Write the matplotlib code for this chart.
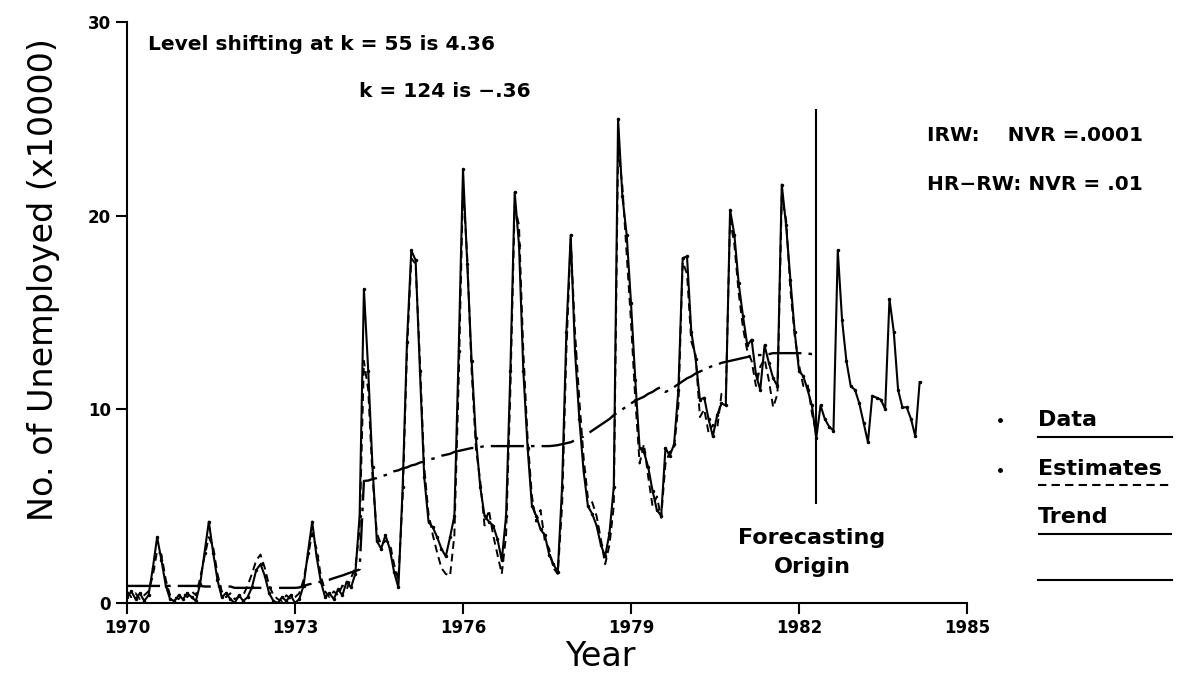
import numpy as np
import matplotlib.pyplot as plt

# ---------------------------------------------------------
# Unemployment series (x10000), 13 samples per year from 1970
# ---------------------------------------------------------
data = [
    0.3, 0.6, 0.2, 0.5, 0.1, 0.4, 1.8, 3.4, 2.2, 0.9, 0.2, 0.1, 0.4,
    0.2, 0.5, 0.3, 0.1, 1.0, 2.6, 4.2, 2.6, 1.2, 0.3, 0.5, 0.2, 0.0,
    0.4, 0.1, 0.3, 0.8, 1.7, 2.0, 1.4, 0.5, 0.1, 0.0, 0.3, 0.1, 0.4,
    0.0, 0.2, 0.9, 2.6, 4.2, 2.4, 1.1, 0.3, 0.5, 0.2, 0.7, 0.4, 1.1,
    0.8, 1.5, 4.5, 16.2, 12.0, 7.0, 3.2, 2.8, 3.5, 2.8, 1.6, 0.8, 6.0,
    13.5, 18.2, 17.7, 12.0, 6.5, 4.2, 3.9, 3.4, 2.8, 2.4, 3.4, 4.5, 13.0,
    22.4, 17.5, 12.5, 8.5, 6.0, 4.5, 4.2, 4.0, 3.3, 2.2, 4.5, 12.0, 21.2,
    18.5, 12.0, 8.0, 5.0, 4.5, 3.8, 3.5, 2.5, 2.0, 1.6, 6.0, 14.0, 19.0,
    13.0, 9.5, 6.8, 5.0, 4.6, 4.0, 3.0, 2.4, 3.6, 6.0, 25.0, 21.0, 19.0,
    15.5, 11.5, 8.0, 7.8, 7.0, 5.8, 4.8, 4.5, 8.0, 7.6, 8.2, 11.0, 17.8,
    17.9, 14.0, 12.6, 10.5, 10.6, 9.5, 8.6, 9.7, 10.3, 10.2, 20.3, 19.0, 16.5,
    14.8, 13.3, 13.6, 11.8, 11.0, 13.3, 12.4, 11.6, 11.2, 21.6, 19.5, 16.7, 14.0,
    12.0, 11.7, 11.0, 10.2, 8.5, 10.2, 9.5, 9.1, 8.9, 18.2, 14.6, 12.5, 11.2,
    11.0, 10.3, 9.3, 8.3, 10.7, 10.6, 10.5, 10.0, 15.7, 14.0, 11.0, 10.1, 10.1,
    9.5, 8.6, 11.4,
]

# model estimates up to the forecasting origin
estimates = [
    0.6, 0.3, 0.5, 0.2, 0.4, 0.6, 1.4, 2.7, 2.5, 1.2, 0.4, 0.3, 0.2,
    0.5, 0.3, 0.6, 0.4, 1.3, 2.4, 3.4, 2.9, 1.5, 0.6, 0.3, 0.5, 0.2,
    0.3, 0.4, 0.9, 1.5, 2.2, 2.5, 1.8, 0.9, 0.4, 0.2, 0.1, 0.4, 0.2,
    0.3, 0.5, 1.2, 2.4, 3.6, 2.8, 1.4, 0.6, 0.3, 0.6, 0.4, 0.9, 0.7,
    1.3, 1.8, 3.8, 12.5, 11.0, 6.5, 3.6, 3.0, 3.2, 3.1, 2.0, 1.2, 5.5,
    13.0, 17.8, 17.5, 12.5, 7.0, 4.6, 3.5, 2.6, 1.8, 1.5, 1.4, 3.5, 11.5,
    21.5, 17.8, 12.0, 8.0, 6.3, 4.0, 4.8, 3.5, 2.5, 1.5, 3.5, 11.0, 20.5,
    19.5, 13.0, 8.5, 5.5, 4.2, 4.8, 3.2, 2.8, 1.8, 1.5, 5.0, 13.0, 18.8,
    14.0, 10.5, 7.5, 5.4, 5.2, 4.5, 3.3, 2.0, 3.0, 5.0, 23.5, 21.5, 18.0,
    14.5, 10.5, 7.2, 8.2, 6.5, 5.0, 5.5, 4.4, 7.2, 7.8, 8.0, 10.2, 17.6,
    17.0, 13.5, 12.8, 9.6, 10.0, 8.8, 9.2, 9.0, 10.8, 10.6, 19.8, 18.5, 16.0,
    14.2, 13.0, 12.5, 11.2, 12.2, 12.6, 11.5, 10.1, 10.8, 21.0, 19.8, 16.2, 13.8,
    12.3, 11.2, 11.3, 9.8, 8.8,
]

# IRW trend with level shifts at k = 55 and k = 124
trend = [
    0.88, 0.88, 0.88, 0.88, 0.88, 0.88, 0.88, 0.88, 0.88, 0.88, 0.88, 0.88, 0.88,
    0.88, 0.88, 0.88, 0.88, 0.88, 0.85, 0.85, 0.85, 0.85, 0.85, 0.85, 0.85, 0.78,
    0.78, 0.78, 0.78, 0.78, 0.78, 0.78, 0.78, 0.78, 0.78, 0.78, 0.78, 0.78, 0.78,
    0.78, 0.80, 0.88, 0.95, 1.00, 1.05, 1.10, 1.15, 1.20, 1.28, 1.35, 1.42, 1.50,
    1.58, 1.65, 1.73, 6.30, 6.32, 6.40, 6.45, 6.55, 6.60, 6.70, 6.80, 6.85, 6.95,
    7.00, 7.10, 7.15, 7.25, 7.30, 7.40, 7.45, 7.50, 7.60, 7.65, 7.70, 7.80, 7.85,
    7.90, 7.95, 8.00, 8.00, 8.05, 8.10, 8.10, 8.10, 8.10, 8.10, 8.10, 8.10, 8.10,
    8.10, 8.10, 8.10, 8.10, 8.10, 8.10, 8.10, 8.10, 8.12, 8.15, 8.20, 8.25, 8.30,
    8.40, 8.50, 8.60, 8.75, 8.90, 9.05, 9.20, 9.35, 9.50, 9.70, 9.85, 10.00, 10.15,
    10.30, 10.45, 10.55, 10.65, 10.80, 10.90, 11.05, 11.15, 10.90, 11.00, 11.15, 11.30, 11.45,
    11.60, 11.70, 11.85, 11.95, 12.05, 12.15, 12.25, 12.30, 12.40, 12.45, 12.50, 12.55, 12.60,
    12.65, 12.70, 12.75, 12.80, 12.80, 12.85, 12.85, 12.90, 12.90, 12.90, 12.90, 12.90, 12.90,
    12.90, 12.90, 12.88, 12.85, 12.85,
]

origin_k = 160            # forecasting origin
origin_span = (5.1, 25.5)  # vertical marker at the origin

per_year = 13
t = 1970 + np.arange(len(data)) / per_year
t_est = t[:len(estimates)]
t_origin = 1970 + origin_k / per_year

# ---------------------------------------------------------
# Plot
# ---------------------------------------------------------
fig = plt.figure(figsize=(11.89, 6.91), dpi=100)
ax = fig.add_axes([0.1068, 0.1274, 0.7065, 0.8408])

ax.plot(t, data, 'k-', lw=1.5, marker='o', markersize=1.5, label='Data')
ax.plot(t_est, estimates, color='k', lw=1.4, dashes=(4, 2.5), label='Estimates')
ax.plot(t_est, trend, color='k', lw=1.7, dashes=(14, 3, 1.5, 3), label='Trend')
ax.vlines(t_origin, origin_span[0], origin_span[1], color='k', lw=1.5)

ax.set_xlim(1970, 1985)
ax.set_ylim(0, 30)
ax.set_xticks([1970, 1973, 1976, 1979, 1982, 1985])
ax.set_yticks([0, 10, 20, 30])
ax.spines['top'].set_visible(False)
ax.spines['right'].set_visible(False)
for s in ['left', 'bottom']:
    ax.spines[s].set_linewidth(1.5)
ax.tick_params(direction='out', length=8, width=1.5, labelsize=12)
for lab in ax.get_xticklabels() + ax.get_yticklabels():
    lab.set_fontweight('bold')

ax.set_xlabel('Year', fontsize=24)
ax.set_ylabel('No. of Unemployed (x10000)', fontsize=24)
ax.xaxis.set_label_coords(0.563, -0.063)
ax.yaxis.set_label_coords(-0.080, 0.556)

# annotations
ax.text(1970.375, 28.85, 'Level shifting at k = 55 is 4.36', fontsize=14.5,
        fontweight='bold', va='center')
ax.text(1974.15, 26.4, 'k = 124 is \u2212.36', fontsize=14.5,
        fontweight='bold', va='center')
ax.text(1982.23, 2.6, 'Forecasting\nOrigin', fontsize=16, fontweight='bold',
        ha='center', va='center', linespacing=1.55)

fig.text(0.7797, 0.8046, 'IRW:    NVR =.0001', fontsize=14.5, fontweight='bold', va='center')
fig.text(0.7797, 0.7323, 'HR\u2212RW: NVR = .01', fontsize=14.5, fontweight='bold', va='center')

# hand-drawn key to the right of the axes
kx0, kx1 = 0.873, 0.9857
fig.text(kx0, 0.3922, 'Data', fontsize=16, fontweight='bold', va='center')
fig.text(kx0, 0.3213, 'Estimates', fontsize=16, fontweight='bold', va='center')
fig.text(kx0, 0.2518, 'Trend', fontsize=16, fontweight='bold', va='center')
fig.add_artist(plt.Line2D([kx0, kx1], [0.3676, 0.3676], color='k', lw=1.5))
fig.add_artist(plt.Line2D([kx0, kx1], [0.2980, 0.2980], color='k', lw=1.5, dashes=(4, 2.5)))
fig.add_artist(plt.Line2D([kx0, kx1], [0.2272, 0.2272], color='k', lw=1.5,
                          dashes=(66, 2.5, 1.5, 2.5, 25, 5)))
fig.add_artist(plt.Line2D([kx0, kx1], [0.1606, 0.1606], color='k', lw=1.5))
fig.add_artist(plt.Line2D([0.841], [0.3922], color='k', marker='o', markersize=2.5, lw=0))
fig.add_artist(plt.Line2D([0.841], [0.3198], color='k', marker='o', markersize=2.5, lw=0))

fig.savefig('out.png', dpi=100)
